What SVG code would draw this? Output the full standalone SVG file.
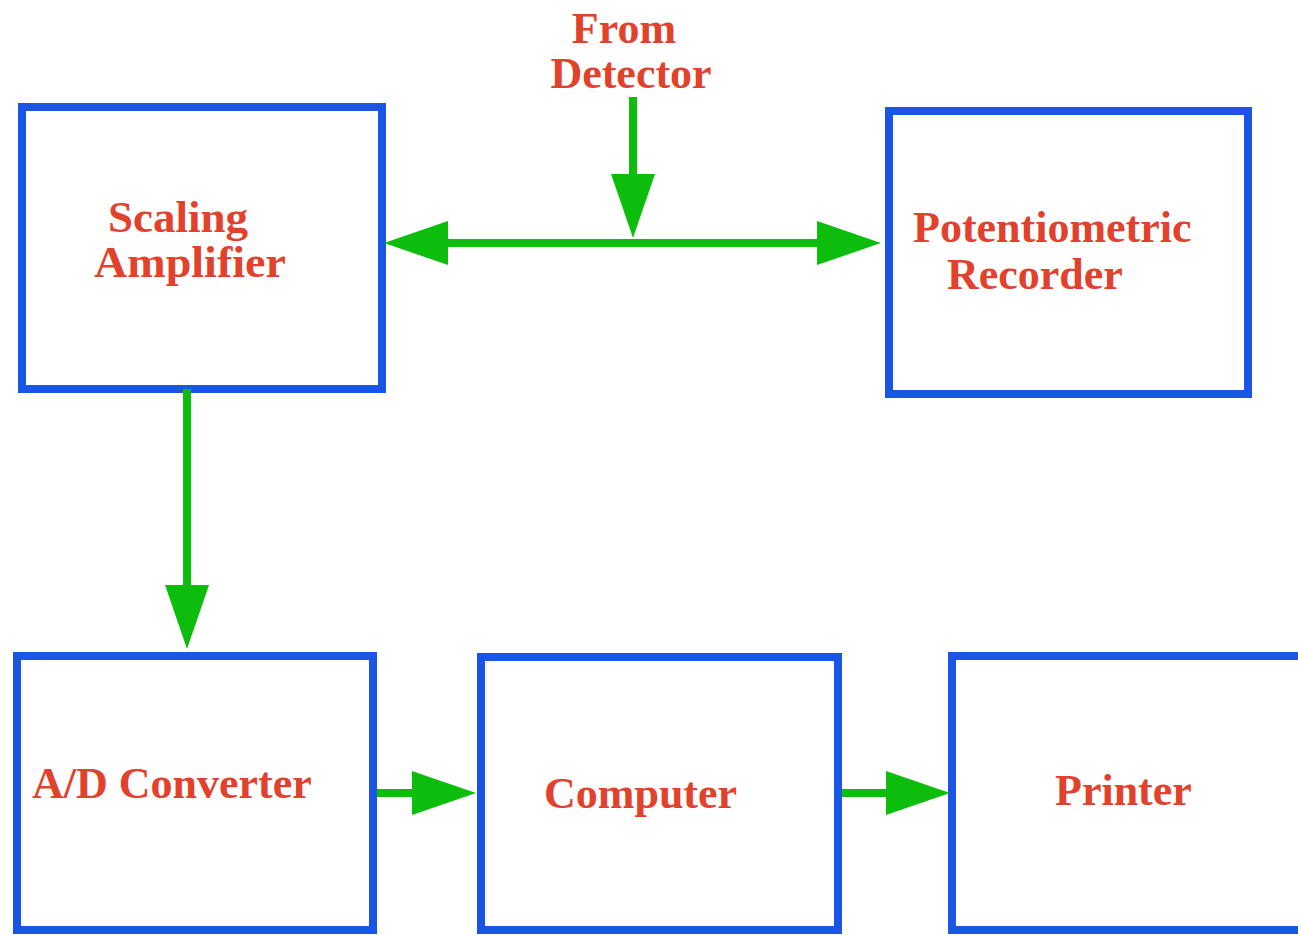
<svg xmlns="http://www.w3.org/2000/svg" width="1298" height="935" viewBox="0 0 1298 935">
<style>
.box{fill:#ffffff;stroke:#1a55e6;stroke-width:8}
.lbl{font-family:"Liberation Serif","Times New Roman",serif;font-weight:bold;font-size:44px;fill:#e2412b}
.conn{stroke:#0cbd0c;stroke-width:8;fill:none}
</style>
<defs>
<marker id="ah" markerUnits="userSpaceOnUse" markerWidth="64" markerHeight="44" refX="1" refY="22" orient="auto-start-reverse" viewBox="0 0 64 44">
<path d="M0,0 L64,22 L0,44 z" fill="#0cbd0c"/>
</marker>
</defs>
<rect width="1298" height="935" fill="#ffffff"/>
<g id="scaling-amplifier">
<rect class="box" x="22" y="107" width="360" height="282"/>
<text class="lbl" x="108" y="232" textLength="140" lengthAdjust="spacingAndGlyphs">Scaling</text>
<text class="lbl" x="94" y="277" textLength="192" lengthAdjust="spacingAndGlyphs">Amplifier</text>
</g>
<g id="potentiometric-recorder">
<rect class="box" x="889" y="111" width="359" height="283"/>
<text class="lbl" x="913" y="242">Potentiometric</text>
<text class="lbl" x="947" y="289">Recorder</text>
</g>
<g id="ad-converter">
<rect class="box" x="17" y="656" width="356" height="274"/>
<text class="lbl" x="32" y="798">A/D Converter</text>
</g>
<g id="computer">
<rect class="box" x="481" y="657" width="357" height="273"/>
<text class="lbl" x="544" y="808">Computer</text>
</g>
<g id="printer">
<rect class="box" x="952" y="656" width="400" height="274"/>
<text class="lbl" x="1055" y="805">Printer</text>
</g>
<g id="from-detector">
<text class="lbl" x="624" y="43" text-anchor="middle">From</text>
<text class="lbl" x="631" y="88" text-anchor="middle">Detector</text>
</g>
<g id="connectors">
<line class="conn" x1="447" y1="243" x2="818" y2="243" marker-start="url(#ah)" marker-end="url(#ah)"/>
<line class="conn" x1="633" y1="97" x2="633" y2="175" marker-end="url(#ah)"/>
<line class="conn" x1="187" y1="389" x2="187" y2="586" marker-end="url(#ah)"/>
<line class="conn" x1="377" y1="793" x2="413" y2="793" marker-end="url(#ah)"/>
<line class="conn" x1="842" y1="793" x2="887" y2="793" marker-end="url(#ah)"/>
</g>
</svg>
